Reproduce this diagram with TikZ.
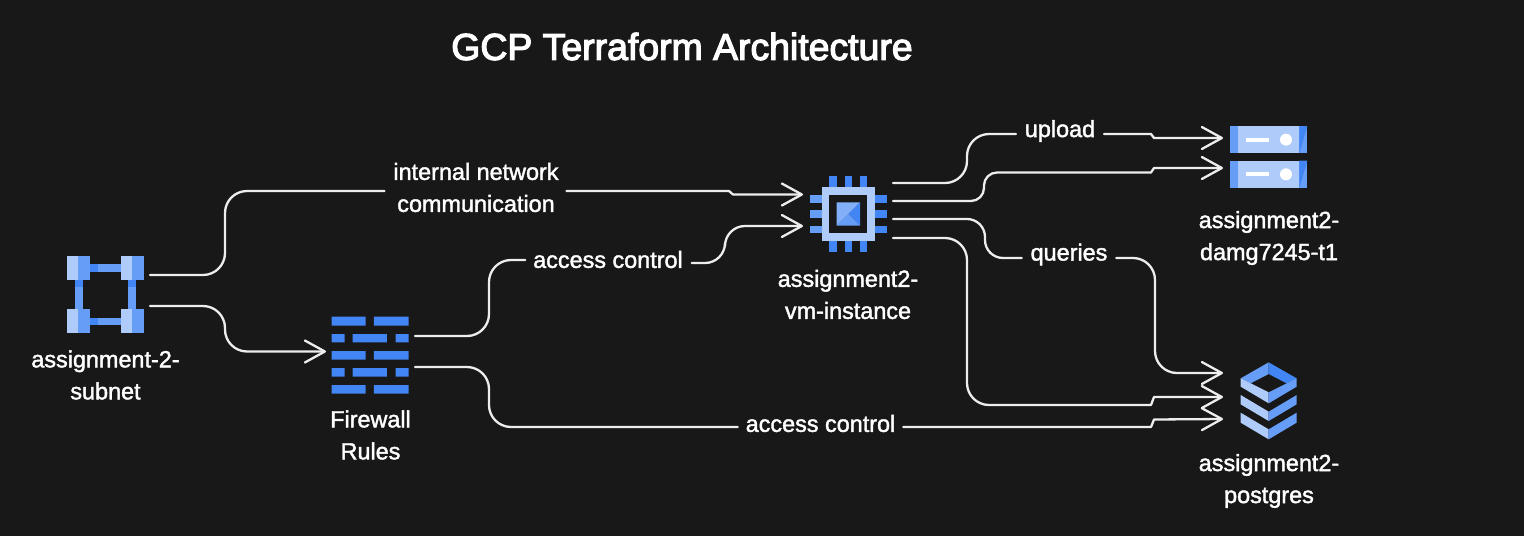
\documentclass[tikz,border=0pt]{standalone}
\usepackage{fontspec}
\setmainfont{Liberation Sans}
\newcommand{\heavy}[2]{\special{pdf:code 2 Tr #1 w 1 1 1 RG}#2\special{pdf:code 0 Tr 0 0 0 RG}}
\usetikzlibrary{arrows.meta}
\definecolor{bg}{HTML}{181818}
\definecolor{gdark}{HTML}{4285F4}
\definecolor{gmid}{HTML}{669DF6}
\definecolor{glight}{HTML}{AECBFA}
\definecolor{wire}{HTML}{EDEDED}
\tikzset{
  icon/.style={inner sep=0pt,outer sep=0pt,draw=none},
  lbl/.style={text=white,font=\fontsize{23.4}{32}\selectfont,align=center,inner sep=0pt,outer sep=0pt},
  edgelbl/.style={lbl},
  kink/.style={sharp corners},
  wirepath/.style={draw=wire,line width=2.3pt,line cap=round,line join=round,rounded corners=22pt},
  arrowpath/.style={wirepath,-{Straight Barb[length=20pt,width=22pt,line width=2.3pt,line join=round,line cap=round]}},
  zoomA/.style={shift={(40,240)},x=0.33333pt,y=-0.33333pt},
  zoomB/.style={shift={(780,110)},x=0.33333pt,y=-0.33333pt},
  zoomC/.style={shift={(1130,110)},x=0.33333pt,y=-0.33333pt},
  zoomD/.style={shift={(1130,350)},x=0.33333pt,y=-0.33333pt},
}
\begin{document}
\begin{tikzpicture}[x=1pt,y=-1pt]
\fill[bg] (0,0) rectangle (1524,536);
\useasboundingbox (0,0) rectangle (1524,536);

\node[text=white,font=\fontsize{37.4}{40}\selectfont,inner sep=0pt] (title) at (682,46.5) {\heavy{1.2}{GCP Terraform Architecture}};

% icon holders
\node[icon,minimum width=89pt,minimum height=80pt] (sub) at (105.5,294.5) {};
\node[icon,minimum width=89pt,minimum height=80pt] (fw) at (370.5,355) {};
\node[icon,minimum width=90pt,minimum height=80pt] (vm) at (848,214) {};
\node[icon,minimum width=92pt,minimum height=64pt] (bucket) at (1269,157) {};
\node[icon,minimum width=92pt,minimum height=80pt] (pg) at (1269,401) {};

% subnet icon
\begin{scope}[zoomA]
  \foreach \x/\y in {150/72,150/233}{
    \fill[gmid] (\x,\y) rectangle ++(92,23);
    \fill[gdark] (\x,\y) rectangle ++(24,23);}
  \foreach \x/\y in {105/118,265/118}{
    \fill[gmid] (\x,\y) rectangle ++(23,90);
    \fill[gdark] (\x,\y) rectangle ++(23,24);}
  \foreach \x/\y in {80/48,242/48,80/208,242/208}{
    \fill[gmid] (\x,\y) rectangle ++(70,71);
    \fill[glight] (\x,\y) rectangle ++(35,71);}
  % firewall icon
  \fill[gdark]
    (875,230) rectangle (977,257) (1002,230) rectangle (1106,257)
    (875,282) rectangle (914,307) (938,282) rectangle (1041,307) (1067,282) rectangle (1106,307)
    (875,333) rectangle (977,359) (1002,333) rectangle (1106,359)
    (875,384) rectangle (914,410) (938,384) rectangle (1041,410) (1067,384) rectangle (1106,410)
    (875,435) rectangle (977,461) (1002,435) rectangle (1106,461);
\end{scope}

% vm icon
\begin{scope}[zoomB]
  \foreach \x in {148,194,240}{
    \fill[gdark] (\x,197) rectangle ++(22,35);
    \fill[gdark] (\x,392) rectangle ++(22,35);}
  \foreach \y in {255,301,347}{
    \fill[gmid] (90,\y) rectangle ++(35,23);
    \fill[gdark] (285,\y) rectangle ++(35,23);}
  \fill[glight] (125,232) rectangle (285,392);
  \fill[bg] (148,255) rectangle (262,370);
  \fill[gmid!60!glight] (170,277) -- (240,277) -- (170,347) -- cycle;
  \fill[gdark] (240,277) -- (240,347) -- (205,312) -- cycle;
  \fill[gmid] (170,347) -- (240,347) -- (205,312) -- cycle;
\end{scope}

% bucket icons
\begin{scope}[zoomC]
  \foreach \y in {48,152}{
    \begin{scope}[yshift=-\y*0.33333pt]
    \fill[glight] (301,0) rectangle (532,82);
    \fill[gmid] (301,0) rectangle (325,82);
    \fill[gmid] (508,0) rectangle (532,82);
    \fill[gdark] (508,0) -- (532,0) -- (508,82) -- cycle;
    \fill[white] (347,35) rectangle (416,47);
    \fill[white] (468,41) circle (18);
    \end{scope}}
\end{scope}

% database icon
\begin{scope}[zoomD]
  \fill[gmid] (332,85) -- (416,37) -- (416,72) -- (362,100) -- cycle;
  \fill[gdark] (416,37) -- (500,85) -- (470,100) -- (416,72) -- cycle;
  \fill[glight] (332,85) -- (362,100) -- (416,127) -- (416,160) -- (332,110) -- cycle;
  \fill[gmid] (500,85) -- (470,100) -- (416,127) -- (416,160) -- (500,110) -- cycle;
  \fill[glight] (332,135) -- (416,185) -- (416,213) -- (332,163) -- cycle;
  \fill[gmid] (500,135) -- (416,185) -- (416,213) -- (500,163) -- cycle;
  \fill[glight] (332,188) -- (416,238) -- (416,268) -- (332,218) -- cycle;
  \fill[gmid] (500,188) -- (416,238) -- (416,268) -- (500,218) -- cycle;
\end{scope}

% icon captions
\node[lbl] (subT) at (105.5,375) {\heavy{0.4}{assignment-2-\\subnet}};
\node[lbl] (fwT) at (370.5,435) {\heavy{0.4}{Firewall\\Rules}};
\node[lbl] (vmT) at (848,294.5) {\heavy{0.4}{assignment2-\\vm-instance}};
\node[lbl] (bucketT) at (1269,238) {\heavy{0.4}{assignment2-\\damg7245-t1}};
\node[lbl] (pgT) at (1269,481) {\heavy{0.4}{assignment2-\\postgres}};

% connector labels
\node[edgelbl] (lInt) at (476,187.5) {\heavy{0.4}{internal network\\communication}};
\node[edgelbl] (lAcc1) at (608,259.5) {\heavy{0.4}{access control}};
\node[edgelbl] (lAcc2) at (820.5,423.5) {\heavy{0.4}{access control}};
\node[edgelbl] (lUp) at (1060,131) {\heavy{0.4}{upload}};
\node[edgelbl] (lQ) at (1069,254.5) {\heavy{0.4}{queries}};

% connectors
\draw[wirepath] ([yshift=19.5pt]sub.east) -- (225,275) -- (225,191) -- ([xshift=-9pt,yshift=-3.5pt]lInt.west);
\draw[arrowpath,kink] ([xshift=8pt,yshift=-3.5pt]lInt.east) -- (729,191) -- (733,194.5) -- ([yshift=19.5pt]vm.west);
\draw[arrowpath] ([yshift=-11.5pt]sub.east) -- (225,306) -- (225,351.5) -- ([yshift=3.5pt]fw.west);
\draw[wirepath] ([yshift=19pt]fw.east) -- (489,336) -- (489,260) -- ([xshift=-8pt,yshift=-0.5pt]lAcc1.west);
\draw[arrowpath,rounded corners=20pt] ([xshift=9pt,yshift=-3.5pt]lAcc1.east) -- (725,263) -- (725,226) -- ([yshift=-12pt]vm.west);
\draw[wirepath] ([yshift=-12pt]fw.east) -- (489,367) -- (489,427) -- ([xshift=-8pt,yshift=-3.5pt]lAcc2.west);
\draw[arrowpath,kink] ([xshift=8pt,yshift=-3.5pt]lAcc2.east) -- (1151,427) -- (1154,419.5) -- ([yshift=-18pt]pg.west);
\draw[wirepath] ([yshift=31pt]vm.east) -- (967,183) -- (967,134) -- ([xshift=-9pt,yshift=-3pt]lUp.west);
\draw[arrowpath,kink] ([xshift=9pt,yshift=-3pt]lUp.east) -- (1151,134) -- (1154,138) -- ([yshift=19pt]bucket.west);
\draw[arrowpath,rounded corners=13pt] ([yshift=13pt]vm.east) -- (984,201) -- (984,172.5) -- (1100,172.5) [kink] -- (1125,172.5) -- (1151,172.5) -- (1154,168) -- ([yshift=-11pt]bucket.west);
\draw[wirepath,rounded corners=18pt] ([yshift=-5pt]vm.east) -- (985,219) -- (985,258) -- ([xshift=-9pt,yshift=-3.5pt]lQ.west);
\draw[arrowpath] ([xshift=9pt,yshift=-3.5pt]lQ.east) -- (1155,258) -- (1155,373) -- ([yshift=28pt]pg.west);
\draw[arrowpath] ([yshift=-24pt]vm.east) -- (967,238) -- (967,405) -- (1100,405) [kink] -- (1125,405) -- (1151,405) -- (1154,397) -- ([yshift=4pt]pg.west);
\end{tikzpicture}
\end{document}
